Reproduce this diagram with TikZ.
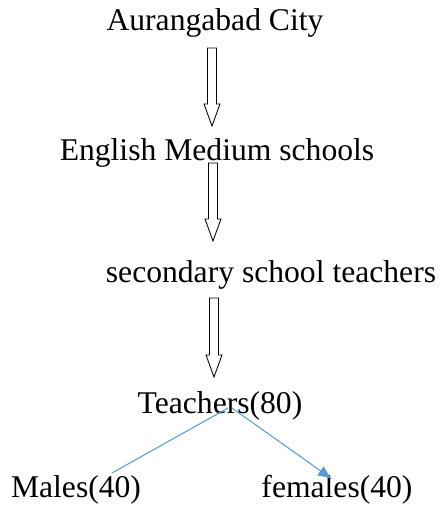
\documentclass[tikz,border=0pt]{standalone}
\usepackage{fontspec}
\setmainfont{Liberation Serif}
\usetikzlibrary{calc,arrows.meta}
\definecolor{linkblue}{RGB}{91,155,213}
% hollow block arrow between two coordinates (top, tip)
\def\blockarrow(#1)(#2){\draw[line width=0.5pt] ($(#1)+(-4.5,0)$) -- ($(#2)+(-4.5,-22)$) -- ($(#2)+(-8,-22)$) -- (#2) -- ($(#2)+(8,-22)$) -- ($(#2)+(4.5,-22)$) -- ($(#1)+(4.5,0)$) -- cycle;}

\begin{document}
\begin{tikzpicture}[x=0.02cm, y=-0.02cm,
	label/.style={anchor=base, inner sep=0pt, font=\fontsize{18}{22}\selectfont}]
			%%%%% START %%%%%
			\useasboundingbox (0, 0) rectangle (441, 505);
			
			\node[label] (city) at (215, 30) {Aurangabad City};
			\node[label] (medium) at (217, 160) {English Medium schools};
			\node[label] (level) at (271, 282) {secondary school teachers};
			\node[label] (teach) at (220, 413) {Teachers(80)};
			\node[label] (male) at (76, 497) {Males(40)};
			\node[label] (female) at (337, 497) {females(40)};
			
			\coordinate (a1top) at (212, 48);
			\coordinate (a1tip) at (212, 126);
			\coordinate (a2top) at (213, 163);
			\coordinate (a2tip) at (213, 241);
			\coordinate (a3top) at (214, 298);
			\coordinate (a3tip) at (214, 377);
			
			\blockarrow(a1top)(a1tip)
			\blockarrow(a2top)(a2tip)
			\blockarrow(a3top)(a3tip)
			
			\coordinate (tl) at (228, 408);
			\coordinate (tr) at (232, 408);
			\coordinate (ml) at (112, 473);
			\coordinate (fr) at (332, 479);
			
			\draw[linkblue, line width=0.6pt] (tl) -- (ml);
			\draw[linkblue, line width=0.6pt, -{Latex[length=8pt,width=6.5pt]}] (tr) -- (fr);
			
			%%%%% END %%%%%
		\end{tikzpicture}
\end{document}
